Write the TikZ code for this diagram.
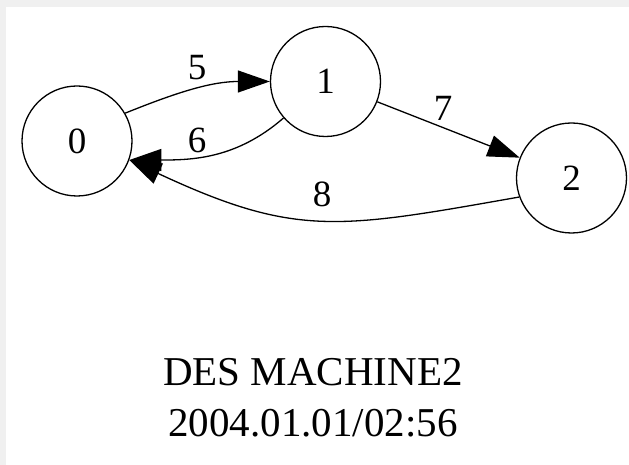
\documentclass[tikz,border=0pt]{standalone}
\usepackage{fontspec}
\setmainfont{Liberation Serif}
\usetikzlibrary{arrows.meta}
\definecolor{bggray}{HTML}{F0F0F0}
\begin{document}
\begin{tikzpicture}[x=1pt,y=1pt,
  state/.style={circle,draw,line width=1.3pt,minimum size=110pt,inner sep=0pt,font=\fontsize{37}{37}\selectfont},
  lbl/.style={inner sep=0pt,font=\fontsize{37}{37}\selectfont},
  edge/.style={line width=1.3pt,-{Triangle[length=32pt,width=22pt]}}]
\useasboundingbox (0,0) rectangle (629,465);
\fill[bggray] (0,0) rectangle (629,465);
\fill[white] (6,0) rectangle (629,458);
\node[state] (n0) at (77,324) {0};
\node[state] (n1) at (325.5,383.5) {1};
\node[state] (n2) at (571.5,287) {2};
\draw[edge] (n0.30) to[out=22,in=180] (n1.180);
\draw[edge] (n1.221) to[out=221,in=0] (n0.-20);
\draw[edge] (n1) -- (n2);
\draw[edge] (n2.200) to[out=190,in=-25,looseness=1.2] (n0.-20);
\node[lbl] (l5) at (197,397) {5};
\node[lbl] (l6) at (197,325) {6};
\node[lbl] (l7) at (443,357) {7};
\node[lbl] (l8) at (322,271) {8};
\node[align=center,inner sep=0pt,font=\fontsize{41}{51}\selectfont] (title) at (313,67) {DES MACHINE2\\2004.01.01/02:56};
\end{tikzpicture}
\end{document}
